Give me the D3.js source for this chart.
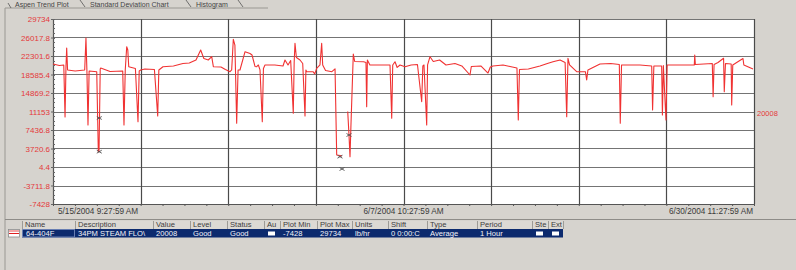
<!DOCTYPE html>
<html>
<head>
<meta charset="utf-8">
<script src="https://cdn.jsdelivr.net/npm/d3@7"></script>
<style>
  body { margin: 0; background: #d6d3ce; overflow: hidden; }
  svg { display: block; font-family: "Liberation Sans", Arial, sans-serif; }
</style>
</head>
<body>
<svg id="chart" width="796" height="270"></svg>
<script>
var sampleHours = [0, 10, 17, 19, 20.5, 21.6, 23, 35, 50, 52, 53.5, 55.2, 57, 69, 71.5, 72.6, 74.5, 75.3, 90,
  110, 112, 114, 116.3, 118, 119.5, 130, 134.1, 136, 138.4, 145, 160, 165.2, 167, 173.5, 190, 205, 215,
  225.6, 233, 238, 245, 250.4, 253, 265, 272, 279.3, 281.9, 284.5, 287, 289.8, 292, 295, 303, 310.8, 314,
  318.7, 321.4, 324, 326.6, 330.2, 332, 334.5, 350, 362.9, 366, 370.8, 375, 379.1, 380.5, 381.8, 384,
  389.7, 394, 397.6, 399, 400.3, 410.2, 413, 416, 421.2, 423.9, 425.5, 430, 440, 445, 447.6, 452.8, 456,
  460, 465, 467, 468.6, 470, 473.8, 476, 490, 493.8, 494.9, 496, 500, 516, 531.7, 534.4, 536, 539.6, 543,
  547.5, 555.4, 565, 575, 581.7, 583.5, 585.3, 589.6, 591, 594.8, 600, 610, 620, 634.2, 645, 657.9, 660,
  675, 686.3, 690, 694.2, 710, 721, 732, 734.1, 736, 750, 768.3, 780, 788.9, 800, 808, 810.5, 812.5, 815,
  826.2, 840, 842, 844, 863, 880, 893.5, 895, 897, 926, 944.6, 946, 948, 960.3, 961.5, 963, 967.1, 969,
  989.2, 1011.8, 1012.5, 1013.5, 1040.2, 1041.5, 1043, 1049.2, 1058, 1059.1, 1061, 1070, 1070.8, 1072.5,
  1088.6, 1090, 1104.4];
var steamFlow = [20700, 20400, 20500, 10050, 20300, 23900, 19500, 19300, 19500, 25900, 19400, 8440, 19300,
  19150, 3080, 3080, 19700, 19900, 19200, 19300, 8440, 19500, 24170, 23500, 20150, 19800, 9100, 19300,
  19500, 19700, 19600, 10250, 19500, 20150, 20300, 20800, 20900, 21500, 23500, 21800, 21500, 22160, 20150,
  20100, 19600, 19150, 19500, 25650, 24500, 8800, 19500, 19490, 23165, 22800, 22500, 20200, 20150, 20500,
  19500, 9100, 19800, 20500, 20500, 20300, 21500, 20500, 21400, 10790, 21000, 24850, 22000, 21500, 20800,
  10250, 19500, 19150, 19150, 18700, 19830, 20500, 24850, 20500, 19400, 19150, 19700, 2414, 2300, 2200,
  null, 11150, 6430, 2073, 8000, 22700, 21200, 21150, 21000, 12120, 21500, 20500, 20500, 20500, 9790,
  20500, 21150, 20000, 20500, 20150, 20500, 20600, 13120, 20300, 20500, 8440, 20500, 22160, 21200, 21500,
  20500, 20800, 20300, 18485, 20200, 20300, 18880, 20100, 20300, 20500, 20200, 19900, 9445, 19600, 19700,
  20300, 20800, 21150, 21500, 21000, 10100, 21840, 20500, 19150, 19150, 17480, 19500, 20700, 20800, 20600,
  8780, 20500, 20500, 20300, 11450, 20300, 20300, 10450, 20400, 9445, 20500, 20500, 20500, 22500, 20600,
  20800, 14130, 20600, 21000, 21840, 15130, 20800, 20700, 12460, 20500, 21800, 20500, 19700];
// the small x marks drawn on the trend
var markerHours = [73, 73, 452.8, 456, 467];
var markerFlow = [9850, 3080, 2073, -400, 6430];

var yTickLabels = ["29734", "26017.8", "22301.6", "18585.4", "14869.2", "11153", "7436.8", "3720.6",
  "4.4", "-3711.8", "-7428"];
var startTime = "5/15/2004 9:27:59 AM";
var endTime = "6/30/2004 11:27:59 AM";
var currentValue = "20008";
var tabNames = ["Aspen Trend Plot", "Standard Deviation Chart", "Histogram"];
var tableHeaders = ["Name", "Description", "Value", "Level", "Status", "Au", "Plot Min", "Plot Max",
  "Units", "Shift", "Type", "Period", "Ste", "Ext"];
var tableRow = ["64-404F", "34PM STEAM FLO\\", "20008", "Good", "Good", "", "-7428", "29734", "lb/hr",
  "0  0:00:C", "Average", "1 Hour", "", ""];

var svg = d3.select("#chart");
var plot = { left: 53, right: 754, top: 19, bottom: 204 };

var parseTime = d3.timeParse("%m/%d/%Y %I:%M:%S %p");
var fmtTime = d3.timeFormat("%-m/%-d/%Y  %-I:%M:%S %p");
var t0 = parseTime(startTime), t1 = parseTime(endTime);
var hourMs = 3600 * 1000;

var x = d3.scaleTime().domain([t0, t1]).range([plot.left, plot.right]);
var yMax = +yTickLabels[0], yMin = +yTickLabels[yTickLabels.length - 1];
var y = d3.scaleLinear().domain([yMin, yMax]).range([plot.bottom, plot.top]);

// --- tab strip along the top of the window
var tabs = svg.append("g").attr("font-size", 7).attr("fill", "#444");
tabs.append("path").attr("d", "M5,8 L5,270 M5,8 L268,8").attr("stroke", "#9a9893").attr("fill", "none");
var tabX = [15, 90, 196];
tabNames.forEach(function (t, i) {
  tabs.append("text").attr("x", tabX[i]).attr("y", 6.5).text(t);
});
// tab edges
[[8, 3, 11, 8], [80, 0, 85, 7], [186, 0, 191, 7], [238, 0, 243, 7]].forEach(function (s) {
  tabs.append("line").attr("x1", s[0]).attr("y1", s[1]).attr("x2", s[2]).attr("y2", s[3])
    .attr("stroke", "#555").attr("stroke-width", 0.8);
});

// --- plot area
svg.append("rect")
  .attr("x", plot.left).attr("y", plot.top)
  .attr("width", plot.right - plot.left).attr("height", plot.bottom - plot.top)
  .attr("fill", "#fff");

var span = t1 - t0;
var majorX = d3.range(0, 9).map(function (i) { return new Date(+t0 + span * i / 8); });
var minorX = d3.range(0, 33).map(function (i) { return new Date(+t0 + span * i / 32); });
var yStep = (yMax - yMin) / 10;
var majorY = yTickLabels.map(function (d) { return +d; });
var minorY = d3.range(0, 41).map(function (i) { return yMin + yStep * i / 4; });

var grid = svg.append("g");
grid.selectAll(".hgrid").data(majorY).enter().append("line")
  .attr("x1", plot.left).attr("x2", plot.right)
  .attr("y1", function (d) { return Math.round(y(d)) + 0.5; })
  .attr("y2", function (d) { return Math.round(y(d)) + 0.5; })
  .attr("stroke", "#747474").attr("stroke-width", 1);
grid.selectAll(".vgrid").data(majorX).enter().append("line")
  .attr("y1", plot.top).attr("y2", plot.bottom)
  .attr("x1", function (d) { return Math.round(x(d)) + 0.5; })
  .attr("x2", function (d) { return Math.round(x(d)) + 0.5; })
  .attr("stroke", "#4a4a4a").attr("stroke-width", 1.2);

// --- y axis, red labels
var yAxis = svg.append("g")
  .attr("transform", "translate(" + plot.left + ",0)")
  .call(d3.axisLeft(y).tickValues(majorY).tickSize(2).tickPadding(1)
    .tickFormat(function (d, i) { return yTickLabels[i]; }));
yAxis.select(".domain").attr("stroke", "#555");
yAxis.selectAll(".tick line").attr("stroke", "#666");
yAxis.selectAll("text").attr("fill", "#e4393b").attr("font-size", 8)
  .attr("font-family", "Liberation Sans, Arial, sans-serif");

svg.append("g").selectAll("line").data(minorY).enter().append("line")
  .attr("x1", plot.left).attr("x2", plot.left + 2)
  .attr("y1", function (d) { return Math.round(y(d)) + 0.5; })
  .attr("y2", function (d) { return Math.round(y(d)) + 0.5; })
  .attr("stroke", "#666");

// --- x axis: minor ticks, three labels
var xAxis = svg.append("g")
  .attr("transform", "translate(0," + plot.bottom + ")")
  .call(d3.axisBottom(x).tickValues(minorX).tickSize(2).tickFormat(""));
xAxis.select(".domain").attr("stroke", "#555");
xAxis.selectAll(".tick line").attr("stroke", "#555");

var xLabels = [
  { t: t0, anchor: "start", dx: 5 },
  { t: majorX[4], anchor: "middle", dx: 0 },
  { t: t1, anchor: "end", dx: -1 }
];
svg.append("g").selectAll("text").data(xLabels).enter().append("text")
  .attr("x", function (d) { return x(d.t) + d.dx; })
  .attr("y", 214)
  .attr("text-anchor", function (d) { return d.anchor; })
  .attr("font-size", 8.2).attr("fill", "#3a3a3a")
  .text(function (d) { return fmtTime(d.t); });

// --- the trend line
var points = sampleHours.map(function (h, i) {
  return { t: new Date(+t0 + h * hourMs), v: steamFlow[i] };
});
var line = d3.line()
  .defined(function (d) { return d.v !== null; })
  .x(function (d) { return x(d.t); })
  .y(function (d) { return y(d.v); });
svg.append("path").datum(points)
  .attr("d", line)
  .attr("fill", "none")
  .attr("stroke", "#f03232")
  .attr("stroke-width", 1.1)
  .attr("stroke-linejoin", "round");

var marks = markerHours.map(function (h, i) {
  return { t: new Date(+t0 + h * hourMs), v: markerFlow[i] };
});
svg.append("g").selectAll("path").data(marks).enter().append("path")
  .attr("transform", function (d) { return "translate(" + x(d.t) + "," + y(d.v) + ")"; })
  .attr("d", "M-2.5,-1.5L2.5,1.5M-2.5,1.5L2.5,-1.5")
  .attr("stroke", "#505050").attr("stroke-width", 0.9).attr("fill", "none");

svg.append("text")
  .attr("x", plot.right + 3).attr("y", 116)
  .attr("font-size", 7.5).attr("fill", "#e4393b")
  .text(currentValue);

// --- pen table
svg.append("line").attr("x1", 5).attr("x2", 796).attr("y1", 219.5).attr("y2", 219.5)
  .attr("stroke", "#8e8c88");

var colEdges = [22, 75, 153, 190, 227, 264, 280, 317, 352, 388, 427, 477, 532, 548, 563];
var headTop = 221, rowTop = 229, rowBottom = 237.5;

var table = svg.append("g").attr("font-size", 7.6);
table.append("rect").attr("x", colEdges[0]).attr("y", headTop)
  .attr("width", colEdges[colEdges.length - 1] - colEdges[0]).attr("height", rowTop - headTop)
  .attr("fill", "#dcd9d4");
table.selectAll(".sep").data(colEdges).enter().append("line")
  .attr("x1", function (d) { return d + 0.5; }).attr("x2", function (d) { return d + 0.5; })
  .attr("y1", headTop).attr("y2", rowTop)
  .attr("stroke", "#9d9b96");
table.selectAll(".head").data(tableHeaders).enter().append("text")
  .attr("x", function (d, i) { return colEdges[i] + 3; })
  .attr("y", rowTop - 1.8)
  .attr("fill", "#3c3c3c")
  .text(function (d) { return d; });

table.append("rect").attr("x", colEdges[0]).attr("y", rowTop)
  .attr("width", colEdges[colEdges.length - 1] - colEdges[0]).attr("height", rowBottom - rowTop)
  .attr("fill", "#0c2a6e");
table.append("rect").attr("x", colEdges[0] + 0.5).attr("y", rowTop + 0.5)
  .attr("width", colEdges[1] - colEdges[0] - 1).attr("height", rowBottom - rowTop - 1)
  .attr("fill", "none").attr("stroke", "#7f93c4").attr("stroke-width", 0.8);
table.selectAll(".cell").data(tableRow).enter().append("text")
  .attr("x", function (d, i) { return colEdges[i] + (i === 0 ? 4 : 3); })
  .attr("y", rowBottom - 1.8)
  .attr("fill", "#f4f4f8")
  .text(function (d) { return d; });
// check boxes in Au, Ste, Ext
[5, 12, 13].forEach(function (c) {
  table.append("rect").attr("x", colEdges[c] + 4).attr("y", rowTop + 2.5)
    .attr("width", 7).attr("height", 4).attr("fill", "#fff");
});

// pen colour swatch
table.append("rect").attr("x", 8.5).attr("y", 229.5).attr("width", 11).attr("height", 7.5)
  .attr("fill", "#fff").attr("stroke", "#8a8a8a").attr("stroke-width", 0.8);
table.append("line").attr("x1", 9).attr("x2", 19).attr("y1", 231).attr("y2", 231)
  .attr("stroke", "#e02020").attr("stroke-width", 0.8);
table.append("line").attr("x1", 9).attr("x2", 19).attr("y1", 233.5).attr("y2", 233.5)
  .attr("stroke", "#e02020").attr("stroke-width", 1);
</script>
</body>
</html>
